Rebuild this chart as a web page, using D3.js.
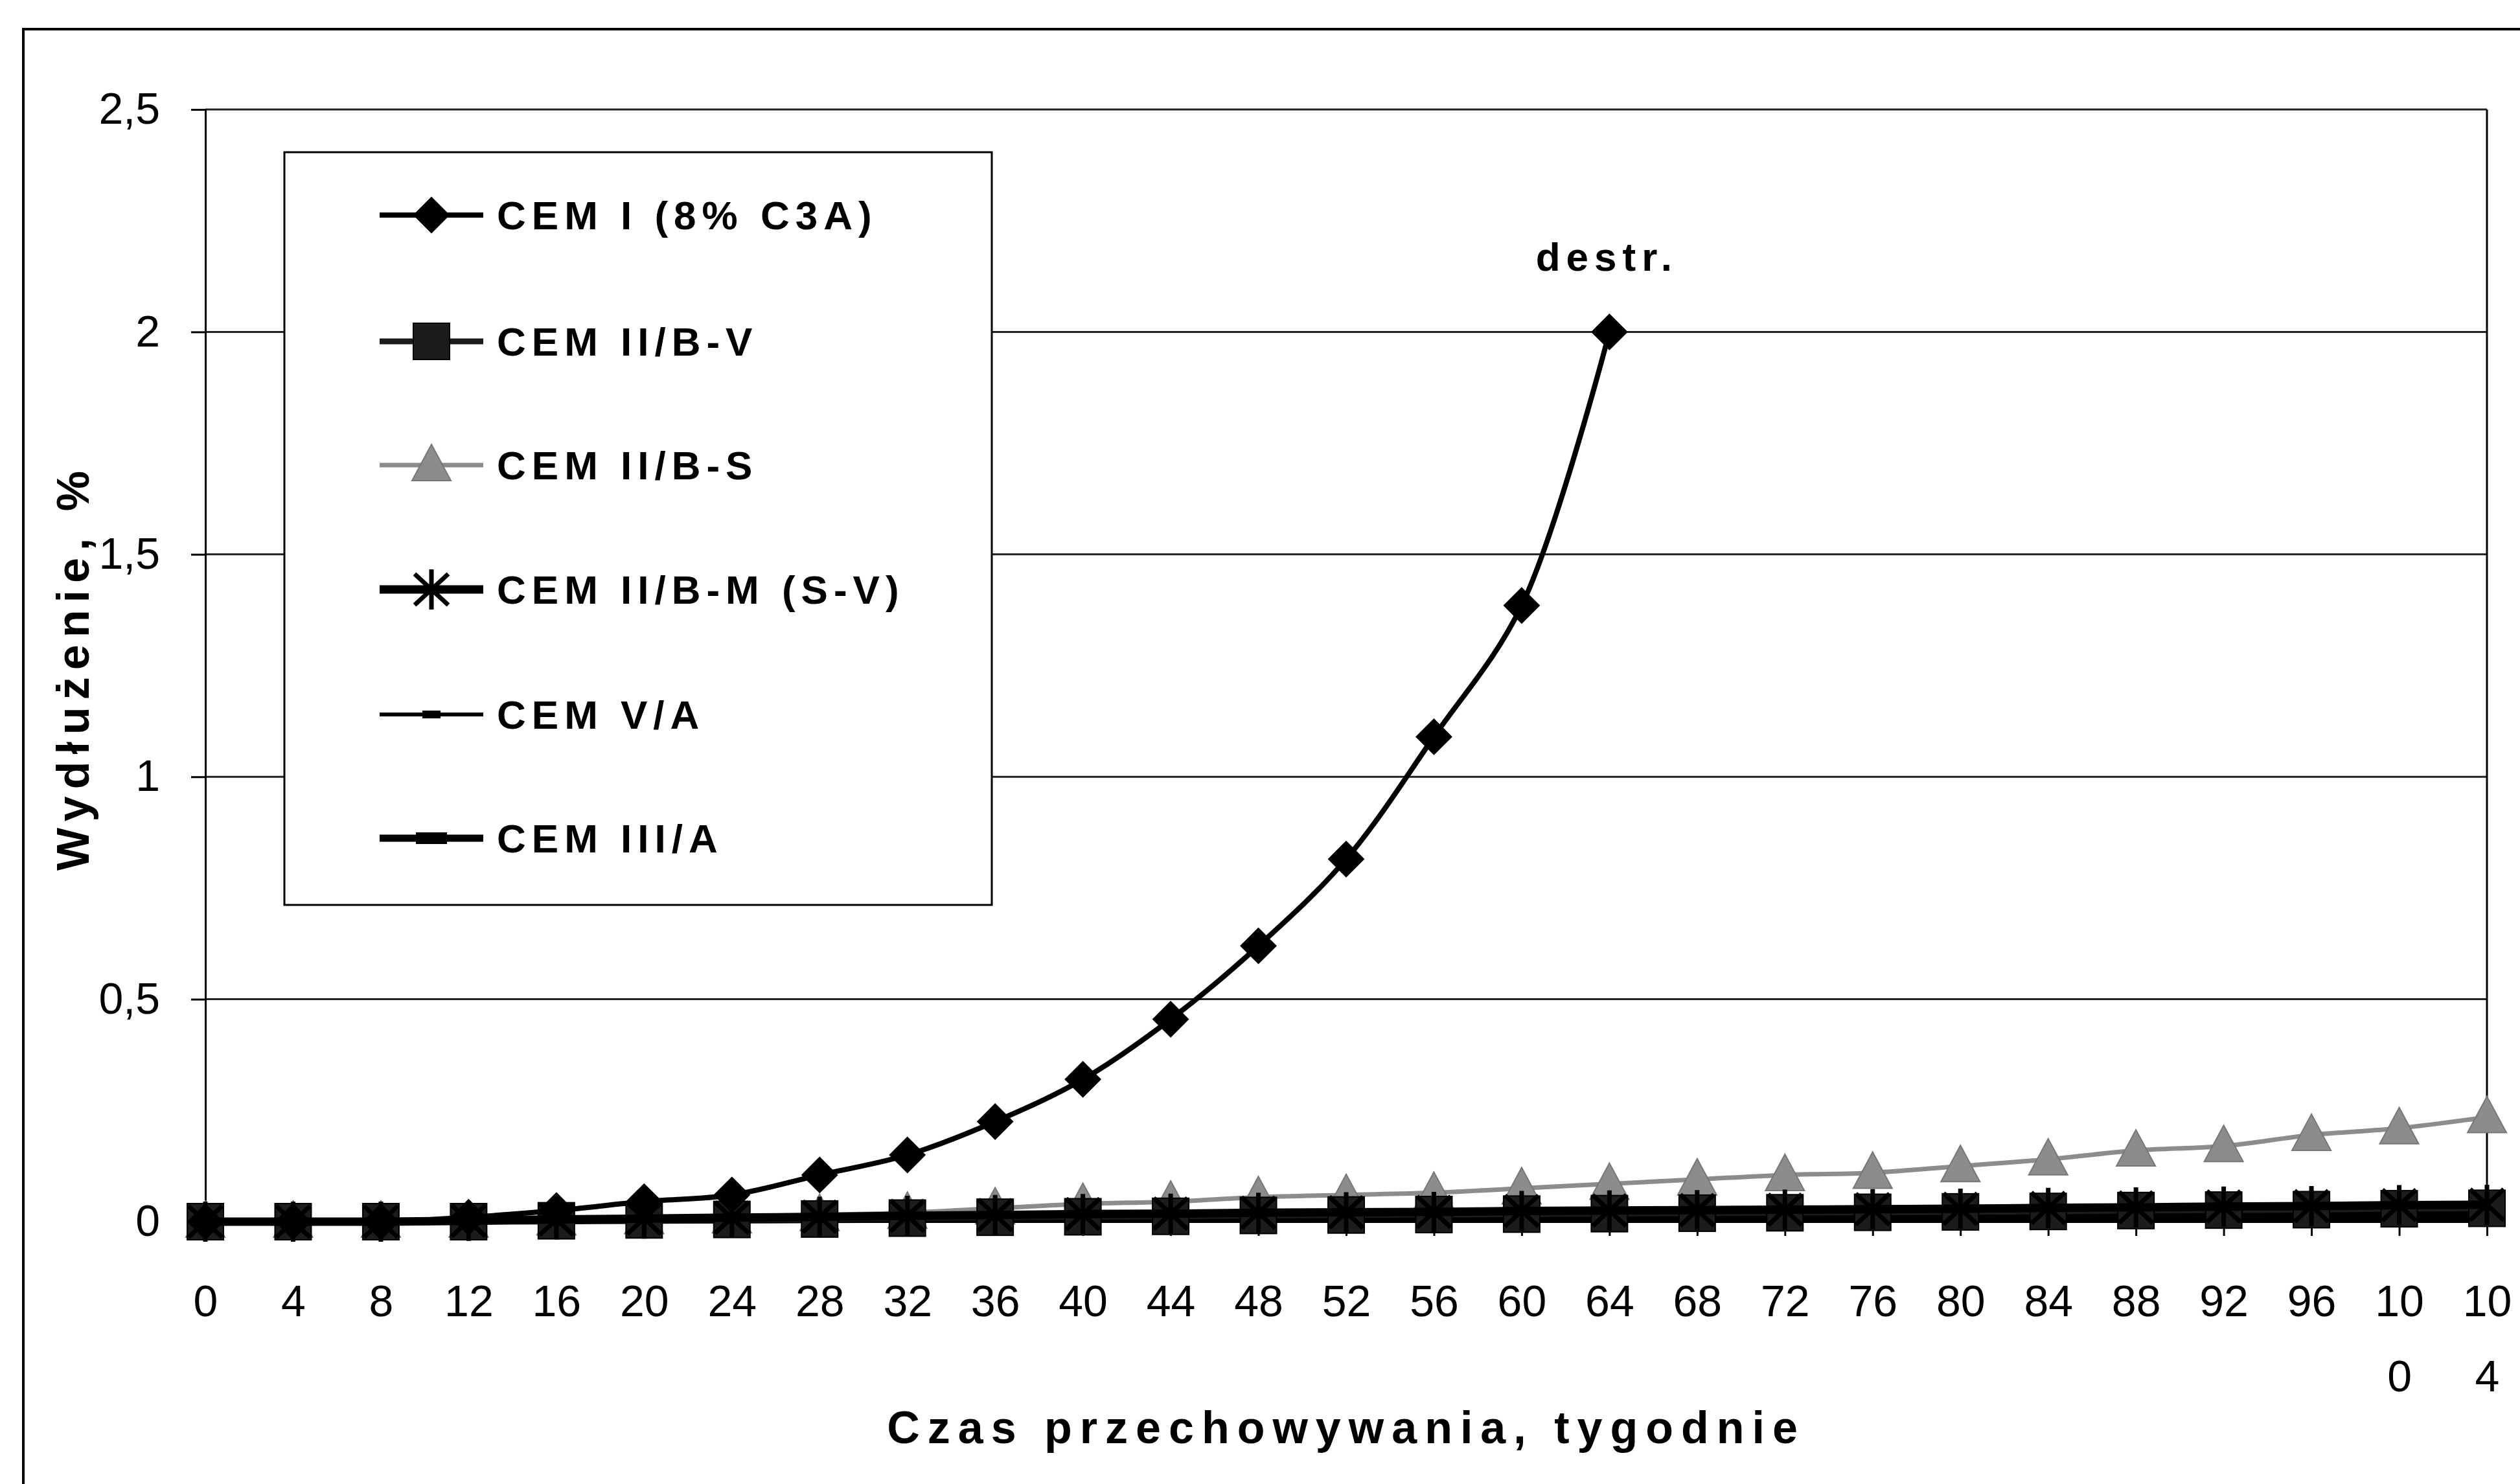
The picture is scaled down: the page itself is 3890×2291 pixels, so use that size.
<!DOCTYPE html>
<html>
<head>
<meta charset="utf-8">
<script src="https://cdn.jsdelivr.net/npm/d3@7"></script>
<style>
  html, body { margin: 0; padding: 0; background: #fff; }
  svg { display: block; font-family: "Liberation Sans", Arial, sans-serif; }
</style>
</head>
<body>
<svg id="chart" width="3890" height="2291"></svg>
<script>
// storage time, weeks
const weeks = [0, 4, 8, 12, 16, 20, 24, 28, 32, 36, 40, 44, 48, 52, 56, 60, 64,
               68, 72, 76, 80, 84, 88, 92, 96, 100, 104];

// elongation, % (CEM I destroyed after week 64)
const cemI    = [0, 0, 0, 0.01, 0.025, 0.045, 0.06, 0.105, 0.15, 0.225, 0.32, 0.455, 0.62, 0.815, 1.09, 1.385, 2.0];
const cemIIBV = [0, 0, 0, 0, 0.002, 0.004, 0.005, 0.006, 0.008, 0.01, 0.011, 0.012, 0.014, 0.015, 0.016, 0.017, 0.018,
                 0.019, 0.02, 0.021, 0.022, 0.023, 0.025, 0.026, 0.027, 0.029, 0.03];
const cemIIBS = [0, 0, 0, 0, 0.005, 0.008, 0.01, 0.015, 0.02, 0.03, 0.04, 0.045, 0.055, 0.06, 0.065, 0.075, 0.085,
                 0.095, 0.105, 0.11, 0.125, 0.14, 0.16, 0.17, 0.195, 0.21, 0.235];
const cemIIBM = [0, 0, 0, 0.002, 0.005, 0.007, 0.009, 0.011, 0.013, 0.015, 0.017, 0.018, 0.02, 0.021, 0.022, 0.024, 0.025,
                 0.026, 0.027, 0.028, 0.029, 0.031, 0.032, 0.034, 0.035, 0.037, 0.038];
const cemVA   = [0, 0, 0, 0, 0, 0, 0.001, 0.001, 0.002, 0.002, 0.002, 0.003, 0.003, 0.003, 0.003, 0.004, 0.004,
                 0.004, 0.004, 0.005, 0.005, 0.005, 0.005, 0.005, 0.006, 0.006, 0.006];
const cemIIIA = [0, 0, 0, 0.001, 0.002, 0.003, 0.004, 0.005, 0.006, 0.006, 0.007, 0.008, 0.008, 0.009, 0.01, 0.01, 0.011,
                 0.012, 0.012, 0.013, 0.013, 0.014, 0.015, 0.015, 0.016, 0.017, 0.018];

const yTicks = [0, 0.5, 1, 1.5, 2, 2.5];

const series = [
  {name: "CEM I (8% C3A)",   values: cemI,    color: "#000", width: 8,  marker: "diamond"},
  {name: "CEM II/B-V",       values: cemIIBV, color: "#1c1c1c", width: 9,  marker: "square"},
  {name: "CEM II/B-S",       values: cemIIBS, color: "#8c8c8c", width: 7,  marker: "triangle"},
  {name: "CEM II/B-M (S-V)", values: cemIIBM, color: "#000", width: 13, marker: "asterisk"},
  {name: "CEM V/A",          values: cemVA,   color: "#000", width: 6,  marker: "dash"},
  {name: "CEM III/A",        values: cemIIIA, color: "#000", width: 11, marker: "bar"}
];
// drawing order: light series first, CEM I on top
const drawOrder = [2, 4, 5, 1, 3, 0];

const svg = d3.select("#chart");

const plotLeft = 317, plotRight = 3839, plotTop = 169, plotBottom = 1886;

const x = d3.scalePoint().domain(weeks).range([plotLeft, plotRight]).padding(0);
const y = d3.scaleLinear().domain([0, 2.5]).range([plotBottom, plotTop]);

// outer chart border (runs past the picture on the right and bottom)
svg.append("rect")
  .attr("x", 36).attr("y", 45)
  .attr("width", 4000).attr("height", 2400)
  .attr("fill", "none").attr("stroke", "#000").attr("stroke-width", 4);

// gridlines
svg.append("g")
  .selectAll("line")
  .data(yTicks.filter(d => d > 0))
  .join("line")
  .attr("x1", plotLeft).attr("x2", plotRight)
  .attr("y1", d => y(d)).attr("y2", d => y(d))
  .attr("stroke", "#222").attr("stroke-width", 3);

// right border of plot area
svg.append("line")
  .attr("x1", plotRight).attr("x2", plotRight)
  .attr("y1", plotTop).attr("y2", plotBottom)
  .attr("stroke", "#000").attr("stroke-width", 3);

// y axis
const yAxis = svg.append("g")
  .attr("transform", `translate(${plotLeft},0)`)
  .call(d3.axisLeft(y)
    .tickValues(yTicks)
    .tickSize(22)
    .tickPadding(48)
    .tickFormat(d => String(d).replace(".", ",")));
yAxis.select(".domain").attr("stroke-width", 3);
yAxis.selectAll(".tick line").attr("stroke-width", 3);
yAxis.selectAll("text").attr("font-size", 68).attr("fill", "#000")
  .attr("font-family", "Liberation Sans, Arial, sans-serif");

// x axis
const xAxis = svg.append("g")
  .attr("transform", `translate(0,${plotBottom})`)
  .call(d3.axisBottom(x).tickSize(22));
xAxis.select(".domain").attr("stroke-width", 3);
xAxis.selectAll(".tick line").attr("stroke-width", 3);
xAxis.selectAll("text")
  .attr("font-size", 68).attr("fill", "#000")
  .attr("font-family", "Liberation Sans, Arial, sans-serif")
  .attr("y", 146).attr("dy", null)
  .each(function(d) {
    const s = String(d);
    const t = d3.select(this).text(null);
    if (s.length > 2) {
      t.append("tspan").attr("x", 0).text(s.slice(0, 2));
      t.append("tspan").attr("x", 0).attr("dy", 116).text(s.slice(2));
    } else {
      t.text(s);
    }
  });

// markers
function drawMarker(g, type, color) {
  if (type === "diamond") {
    g.append("path").attr("d", "M0,-27L27,0L0,27L-27,0Z").attr("fill", color).attr("stroke", color).attr("stroke-width", 2);
  } else if (type === "square") {
    g.append("rect").attr("x", -28).attr("y", -28).attr("width", 56).attr("height", 56)
      .attr("fill", color).attr("stroke", "#000").attr("stroke-width", 2);
  } else if (type === "triangle") {
    g.append("path").attr("d", "M0,-32L30,24L-30,24Z").attr("fill", color).attr("stroke", "#777").attr("stroke-width", 2);
  } else if (type === "asterisk") {
    g.append("path").attr("d", "M0,-31L0,31M-26,-24L26,24M-26,24L26,-24")
      .attr("stroke", color).attr("stroke-width", 7).attr("fill", "none");
  } else if (type === "dash") {
    g.append("rect").attr("x", -14).attr("y", -6).attr("width", 28).attr("height", 12).attr("fill", color);
  } else if (type === "bar") {
    g.append("rect").attr("x", -24).attr("y", -9).attr("width", 48).attr("height", 18).attr("fill", color);
  }
}

const line = d3.line()
  .x((d, i) => x(weeks[i]))
  .y(d => y(d))
  .curve(d3.curveCatmullRom.alpha(0.5));

const plot = svg.append("g");
drawOrder.forEach(k => {
  const s = series[k];
  const g = plot.append("g");
  g.append("path")
    .datum(s.values)
    .attr("d", line)
    .attr("fill", "none")
    .attr("stroke", s.color)
    .attr("stroke-width", s.width)
    .attr("stroke-linejoin", "round");
  g.selectAll("g.pt")
    .data(s.values)
    .join("g")
    .attr("class", "pt")
    .attr("transform", (d, i) => `translate(${x(weeks[i])},${y(d)})`)
    .each(function() { drawMarker(d3.select(this), s.marker, s.color); });
});

// "destr." note above the last CEM I point
svg.append("text")
  .attr("x", x(weeks[cemI.length - 1]) - 4)
  .attr("y", 418)
  .attr("text-anchor", "middle")
  .attr("font-size", 62).attr("font-weight", "bold")
  .attr("letter-spacing", 9)
  .text("destr.");

// legend
const legend = svg.append("g");
legend.append("rect")
  .attr("x", 439).attr("y", 235)
  .attr("width", 1092).attr("height", 1162)
  .attr("fill", "#fff").attr("stroke", "#000").attr("stroke-width", 3);

const rowY = [332, 527, 718, 910, 1103, 1294];
series.forEach((s, i) => {
  const row = legend.append("g").attr("transform", `translate(0,${rowY[i]})`);
  row.append("line")
    .attr("x1", 586).attr("x2", 746)
    .attr("stroke", s.color).attr("stroke-width", s.width);
  drawMarker(row.append("g").attr("transform", "translate(666,0)"), s.marker, s.color);
  row.append("text")
    .attr("x", 767).attr("y", 22)
    .attr("font-size", 62).attr("font-weight", "bold")
    .attr("letter-spacing", 9)
    .text(s.name);
});

// axis titles
svg.append("text")
  .attr("x", (plotLeft + plotRight) / 2)
  .attr("y", 2228)
  .attr("text-anchor", "middle")
  .attr("font-size", 70).attr("font-weight", "bold")
  .attr("letter-spacing", 12)
  .text("Czas przechowywania, tygodnie");

svg.append("text")
  .attr("transform", "translate(137,1030) rotate(-90)")
  .attr("text-anchor", "middle")
  .attr("font-size", 70).attr("font-weight", "bold")
  .attr("letter-spacing", 11)
  .text("Wydłużenie, %");
</script>
</body>
</html>
